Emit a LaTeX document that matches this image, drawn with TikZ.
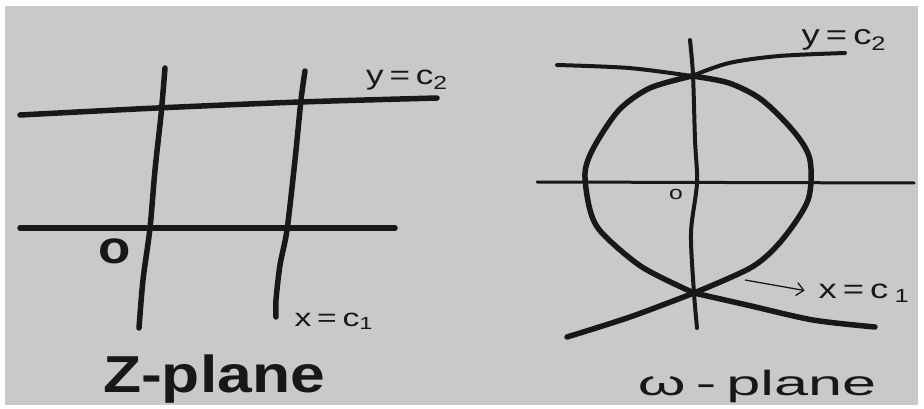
\documentclass[tikz,border=0pt]{standalone}
\usepackage{fontspec}
\setmainfont{Liberation Sans}
\usepackage{graphicx}
\usetikzlibrary{arrows.meta}
\definecolor{paper}{RGB}{201,201,199}
\definecolor{ink}{RGB}{24,24,24}
\begin{document}
\begin{tikzpicture}[x=1pt,y=-1pt,
  heavy/.style={draw=ink,line width=5.5pt,line cap=round,line join=round},
  medium/.style={draw=ink,line width=4pt,line cap=round,line join=round},
  hand/.style={text=ink,inner sep=0pt,anchor=base}]
\useasboundingbox (0,0) rectangle (924,409);
\fill[white] (0,0) rectangle (924,409);
\fill[paper] (5,6) rectangle (918,405);

% ---------- z-plane ----------
\draw[heavy] plot[smooth] coordinates {(165,68) (161,115) (155,170) (150,228) (143,280) (139,328)};
\draw[heavy] plot[smooth] coordinates {(305,71) (301,100) (295,160) (287,230) (280,265) (276,300) (276,317)};
\draw[heavy] plot[smooth] coordinates {(20,115) (157,108) (300,102) (437,98)};
\draw[heavy] (20,228) -- (395,228);

\node[hand,font=\bfseries\fontsize{46}{50}\selectfont] (zo) at (115,263) {\scalebox{1.15}[1]{o}};
\node[hand,font=\fontsize{27}{30}\selectfont] (zy) at (407,85) {\scalebox{1.3}[1]{y\,=\,c\textsubscript{2}}};
\node[hand,font=\fontsize{25}{30}\selectfont] (zx) at (334,326) {\scalebox{1.35}[1]{x\,=\,c\textsubscript{1}}};
\node[hand,font=\bfseries\fontsize{52}{56}\selectfont] (zt) at (214,392) {\scalebox{1.2}[1]{Z-plane}};

% ---------- w-plane ----------
\draw[medium] plot[smooth] coordinates {(690,40) (693,75) (695,140) (697,183) (691,233) (694,293) (697,328)};
\draw[draw=ink,line width=3pt,line cap=round] (537,182) -- (914,183);
% circle-like curve: left and right arcs
\draw[heavy] plot[smooth] coordinates {(692,76) (650,88) (619,110) (594,147) (585,173) (590,210) (602,233) (642,267) (694,293)};
\draw[heavy] plot[smooth] coordinates {(692,76) (729,83) (762,100) (795,133) (810,160) (808,200) (782,240) (752,267) (694,293)};
% y = c2 image
\draw[medium] plot[smooth] coordinates {(557,65) (629,68) (692,76)};
\draw[medium] plot[smooth] coordinates {(692,76) (729,63) (779,56) (845,53)};
% x = c1 image
\draw[heavy] plot[smooth] coordinates {(567,337) (630,317) (694,293)};
\draw[heavy] plot[smooth] coordinates {(694,293) (747,305) (813,320) (875,327)};

\node[hand,font=\fontsize{19}{22}\selectfont] (wo) at (676,200) {\scalebox{1.3}[1]{o}};
\node[hand,font=\fontsize{28}{32}\selectfont] (wy) at (844,45) {\scalebox{1.3}[1]{y\,=\,c\textsubscript{2}}};
\node[hand,font=\fontsize{27}{30}\selectfont] (wx) at (864,298) {\scalebox{1.35}[1]{x\,=\,c\,\textsubscript{1}}};
\coordinate (ws) at (745,280);
\draw[draw=ink,line width=1.3pt,-{Straight Barb[length=7pt,width=13pt]},shorten >=14pt] (ws) -- (wx.west);
\node[hand,font=\fontsize{35}{40}\selectfont] (wt) at (757,395) {\scalebox{1.75}[1]{ω\,-\,plane}};
\end{tikzpicture}
\end{document}
